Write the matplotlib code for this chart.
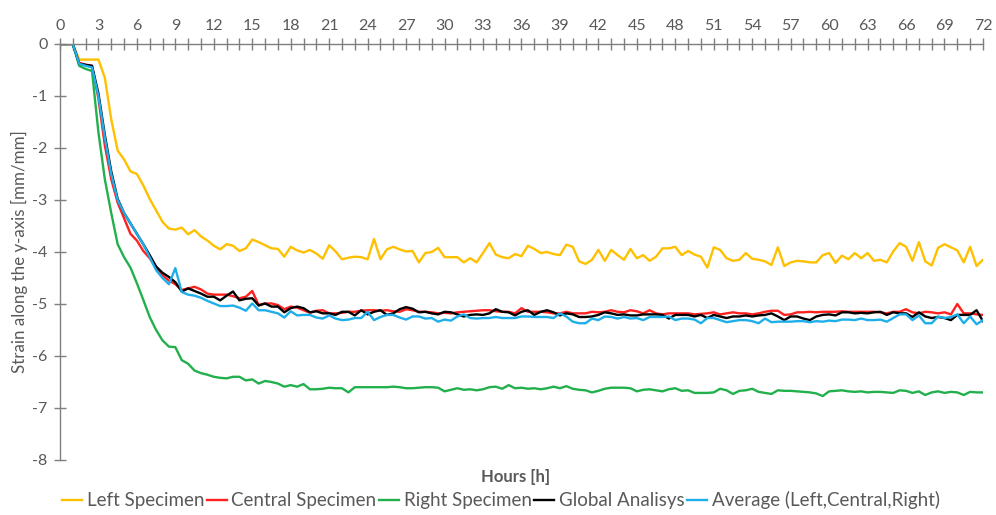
import numpy as np
import matplotlib
matplotlib.use("Agg")
import matplotlib.pyplot as plt
from matplotlib.ticker import MultipleLocator

plt.rcParams['font.family'] = ['Lato', 'DejaVu Sans']
plt.rcParams['axes.unicode_minus'] = False

# time axis, one reading every half hour
hours = np.arange(0, 72.5, 0.5)

# strain readings, rows of 10 = 5 hours
left = [
    0, 0, 0, -0.30, -0.30, -0.30, -0.30, -0.65, -1.45, -2.05,
    -2.22, -2.45, -2.50, -2.72, -2.98, -3.20, -3.42, -3.55, -3.57, -3.53,
    -3.66, -3.58, -3.70, -3.78, -3.88, -3.95, -3.85, -3.88, -3.98, -3.93,
    -3.76, -3.81, -3.87, -3.93, -3.94, -4.09, -3.90, -3.97, -4.01, -3.96,
    -4.03, -4.13, -3.87, -3.99, -4.14, -4.11, -4.09, -4.10, -4.14, -3.75,
    -4.14, -3.95, -3.90, -3.95, -3.99, -3.98, -4.20, -4.02, -4.00, -3.92,
    -4.10, -4.10, -4.10, -4.20, -4.12, -4.20, -4.02, -3.83, -4.05, -4.10,
    -4.12, -4.04, -4.08, -3.88, -3.94, -4.02, -4.00, -4.04, -4.06, -3.86,
    -3.90, -4.18, -4.23, -4.15, -3.96, -4.17, -3.96, -4.06, -4.15, -3.94,
    -4.12, -4.06, -4.17, -4.09, -3.93, -3.93, -3.90, -4.06, -3.98, -4.05,
    -4.09, -4.30, -3.91, -3.96, -4.12, -4.17, -4.15, -4.02, -4.13, -4.15,
    -4.18, -4.25, -3.91, -4.27, -4.20, -4.17, -4.18, -4.20, -4.20, -4.06,
    -4.02, -4.21, -4.07, -4.14, -4.02, -4.12, -4.02, -4.17, -4.15, -4.20,
    -3.99, -3.83, -3.90, -4.17, -3.81, -4.18, -4.26, -3.92, -3.85, -3.91,
    -3.97, -4.20, -3.90, -4.27, -4.15,
]

central = [
    0, 0, 0, -0.36, -0.40, -0.42, -1.05, -1.95, -2.60, -3.05,
    -3.35, -3.65, -3.78, -3.98, -4.12, -4.30, -4.45, -4.55, -4.62, -4.73,
    -4.70, -4.67, -4.72, -4.80, -4.82, -4.82, -4.82, -4.85, -4.89, -4.86,
    -4.75, -5.02, -4.99, -4.99, -5.02, -5.10, -5.05, -5.07, -5.12, -5.17,
    -5.13, -5.12, -5.18, -5.18, -5.17, -5.15, -5.15, -5.13, -5.12, -5.12,
    -5.13, -5.12, -5.14, -5.15, -5.10, -5.12, -5.15, -5.15, -5.16, -5.18,
    -5.17, -5.18, -5.16, -5.15, -5.14, -5.13, -5.12, -5.12, -5.14, -5.15,
    -5.15, -5.18, -5.08, -5.15, -5.15, -5.15, -5.16, -5.18, -5.18, -5.15,
    -5.18, -5.18, -5.18, -5.15, -5.16, -5.15, -5.12, -5.15, -5.16, -5.12,
    -5.14, -5.18, -5.12, -5.18, -5.20, -5.18, -5.18, -5.18, -5.18, -5.20,
    -5.19, -5.18, -5.16, -5.20, -5.18, -5.16, -5.18, -5.18, -5.20, -5.18,
    -5.15, -5.13, -5.13, -5.21, -5.20, -5.16, -5.16, -5.15, -5.16, -5.15,
    -5.15, -5.15, -5.14, -5.15, -5.15, -5.15, -5.15, -5.15, -5.16, -5.18,
    -5.15, -5.15, -5.10, -5.16, -5.18, -5.15, -5.16, -5.18, -5.16, -5.20,
    -5.00, -5.18, -5.18, -5.20, -5.21,
]

right = [
    0, 0, 0, -0.42, -0.48, -0.52, -1.70, -2.60, -3.25, -3.85,
    -4.10, -4.30, -4.60, -4.92, -5.25, -5.50, -5.70, -5.82, -5.83, -6.08,
    -6.15, -6.28, -6.33, -6.36, -6.40, -6.42, -6.43, -6.40, -6.40, -6.47,
    -6.45, -6.53, -6.48, -6.50, -6.53, -6.59, -6.56, -6.59, -6.54, -6.64,
    -6.64, -6.63, -6.61, -6.62, -6.62, -6.70, -6.60, -6.60, -6.60, -6.60,
    -6.60, -6.60, -6.59, -6.60, -6.62, -6.62, -6.61, -6.60, -6.60, -6.61,
    -6.68, -6.65, -6.62, -6.65, -6.64, -6.66, -6.64, -6.60, -6.59, -6.63,
    -6.56, -6.62, -6.61, -6.63, -6.62, -6.64, -6.62, -6.59, -6.62, -6.58,
    -6.63, -6.65, -6.66, -6.70, -6.67, -6.63, -6.61, -6.61, -6.61, -6.62,
    -6.68, -6.65, -6.64, -6.66, -6.68, -6.64, -6.62, -6.67, -6.66, -6.71,
    -6.71, -6.71, -6.70, -6.63, -6.66, -6.73, -6.67, -6.66, -6.63, -6.69,
    -6.71, -6.73, -6.66, -6.67, -6.67, -6.68, -6.69, -6.70, -6.72, -6.77,
    -6.68, -6.67, -6.66, -6.68, -6.69, -6.68, -6.70, -6.69, -6.69, -6.70,
    -6.71, -6.66, -6.67, -6.71, -6.68, -6.75, -6.70, -6.68, -6.71, -6.69,
    -6.70, -6.75, -6.69, -6.70, -6.70,
]

global_an = [
    0, 0, 0, -0.38, -0.40, -0.42, -0.95, -1.75, -2.45, -2.98,
    -3.25, -3.45, -3.65, -3.85, -4.06, -4.28, -4.40, -4.48, -4.58, -4.76,
    -4.70, -4.75, -4.80, -4.86, -4.86, -4.93, -4.84, -4.76, -4.93, -4.90,
    -4.89, -5.03, -4.99, -5.05, -5.05, -5.16, -5.08, -5.05, -5.08, -5.16,
    -5.14, -5.18, -5.18, -5.21, -5.15, -5.15, -5.22, -5.12, -5.20, -5.15,
    -5.12, -5.21, -5.18, -5.10, -5.06, -5.09, -5.16, -5.15, -5.18, -5.20,
    -5.15, -5.16, -5.20, -5.24, -5.21, -5.20, -5.21, -5.18, -5.10, -5.15,
    -5.16, -5.22, -5.15, -5.12, -5.21, -5.15, -5.12, -5.16, -5.22, -5.18,
    -5.20, -5.25, -5.25, -5.24, -5.21, -5.16, -5.18, -5.21, -5.20, -5.22,
    -5.22, -5.20, -5.20, -5.20, -5.21, -5.28, -5.21, -5.21, -5.21, -5.24,
    -5.21, -5.27, -5.21, -5.24, -5.27, -5.24, -5.24, -5.22, -5.24, -5.22,
    -5.21, -5.18, -5.24, -5.31, -5.24, -5.24, -5.28, -5.31, -5.24, -5.21,
    -5.20, -5.22, -5.16, -5.16, -5.18, -5.17, -5.18, -5.16, -5.15, -5.21,
    -5.16, -5.18, -5.18, -5.25, -5.16, -5.24, -5.27, -5.25, -5.27, -5.31,
    -5.21, -5.21, -5.21, -5.12, -5.33,
]

average = [
    0, 0, 0, -0.38, -0.42, -0.45, -1.00, -1.80, -2.50, -3.00,
    -3.25, -3.45, -3.65, -3.85, -4.10, -4.35, -4.50, -4.62, -4.31, -4.77,
    -4.82, -4.84, -4.88, -4.94, -4.99, -5.04, -5.04, -5.03, -5.07, -5.13,
    -4.99, -5.12, -5.12, -5.15, -5.18, -5.26, -5.14, -5.22, -5.21, -5.21,
    -5.26, -5.28, -5.22, -5.28, -5.31, -5.30, -5.27, -5.27, -5.15, -5.31,
    -5.25, -5.21, -5.21, -5.26, -5.30, -5.24, -5.24, -5.28, -5.27, -5.34,
    -5.30, -5.32, -5.24, -5.20, -5.27, -5.28, -5.27, -5.27, -5.25, -5.27,
    -5.27, -5.27, -5.24, -5.24, -5.25, -5.25, -5.25, -5.27, -5.18, -5.24,
    -5.34, -5.37, -5.37, -5.28, -5.31, -5.24, -5.25, -5.28, -5.25, -5.28,
    -5.27, -5.31, -5.25, -5.25, -5.25, -5.24, -5.31, -5.28, -5.28, -5.30,
    -5.37, -5.27, -5.27, -5.31, -5.35, -5.33, -5.31, -5.31, -5.33, -5.37,
    -5.28, -5.35, -5.34, -5.34, -5.34, -5.33, -5.33, -5.35, -5.33, -5.34,
    -5.32, -5.33, -5.30, -5.30, -5.31, -5.28, -5.31, -5.31, -5.30, -5.34,
    -5.27, -5.20, -5.20, -5.31, -5.22, -5.37, -5.37, -5.24, -5.27, -5.25,
    -5.20, -5.37, -5.24, -5.39, -5.31,
]

series = [
    ('Left Specimen', left, '#FFC000'),
    ('Central Specimen', central, '#FF2020'),
    ('Right Specimen', right, '#22B04C'),
    ('Global Analisys', global_an, '#000000'),
    ('Average (Left,Central,Right)', average, '#1EAEEA'),
]

grey = '#595959'

fig = plt.figure(figsize=(9.96, 5.15), dpi=100)
ax = fig.add_axes([0.0602, 0.1068, 0.9267, 0.8078])

for name, vals, col in series:
    ax.plot(hours[:len(vals)], vals, color=col, lw=1.7, label=name)

ax.set_xlim(0, 72)
ax.set_ylim(-8, 0)

# x axis sits on y=0, labels on top
ax.xaxis.set_major_locator(MultipleLocator(3))
ax.xaxis.set_minor_locator(MultipleLocator(1))
ax.yaxis.set_major_locator(MultipleLocator(1))
ax.xaxis.tick_top()
ax.spines['bottom'].set_visible(False)
ax.spines['right'].set_visible(False)
for s in ('top', 'left'):
    ax.spines[s].set_color('#7f7f7f')
    ax.spines[s].set_linewidth(1.0)
ax.tick_params(axis='x', which='both', direction='inout', length=8, width=1.0,
               color='#7f7f7f', labelcolor=grey, labelsize=11.5, pad=4)
ax.tick_params(axis='y', which='both', direction='inout', length=8, width=1.0,
               color='#7f7f7f', labelcolor=grey, labelsize=11.5, pad=5)

ax.set_ylabel('Strain along the y-axis [mm/mm]', color=grey, fontsize=12.2, labelpad=3)
fig.text(0.518, 0.074, 'Hours [h]', ha='center', va='center', color=grey,
         fontsize=12, fontweight='bold')

fig.legend(loc='center', bbox_to_anchor=(0.503, 0.029), ncol=5, frameon=False,
           fontsize=13.5, handlelength=1.05, handletextpad=0.25, columnspacing=0.15,
           labelcolor=grey)

fig.savefig('out.png', dpi=100)
